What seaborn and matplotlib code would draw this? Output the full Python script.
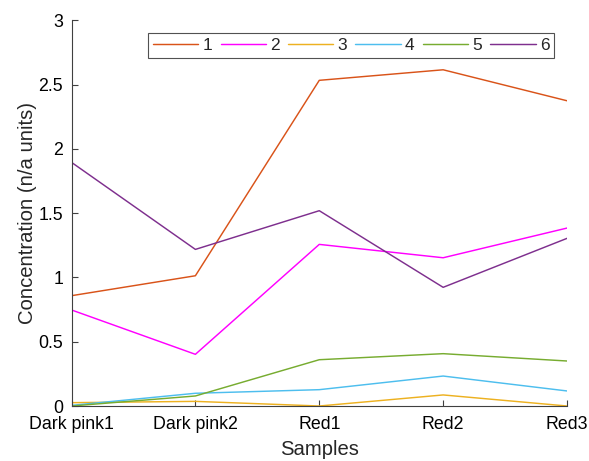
import matplotlib
matplotlib.use("Agg")
import matplotlib.pyplot as plt
import seaborn as sns
import pandas as pd

samples = ["Dark pink1", "Dark pink2", "Red1", "Red2", "Red3"]
s1 = [0.858, 1.013, 2.533, 2.615, 2.374]
s2 = [0.747, 0.402, 1.257, 1.153, 1.384]
s3 = [0.026, 0.036, 0.0, 0.086, 0.0]
s4 = [0.005, 0.099, 0.127, 0.233, 0.117]
s5 = [0.0, 0.078, 0.360, 0.407, 0.350]
s6 = [1.895, 1.218, 1.519, 0.923, 1.304]
series_names = ["1", "2", "3", "4", "5", "6"]
colors = ["#D95319", "#FF00FF", "#EDB120", "#4DBEEE", "#77AC30", "#7E2F8E"]

rows = []
for name, vals in zip(series_names, [s1, s2, s3, s4, s5, s6]):
    for i, v in enumerate(vals):
        rows.append({"x": i, "value": v, "series": name})
df = pd.DataFrame(rows)

sns.set_style("ticks")
plt.rcParams["font.family"] = ["Liberation Sans", "DejaVu Sans"]

fig = plt.figure(figsize=(5.89, 4.61), dpi=100)
ax = fig.add_axes([0.1214, 0.1193, 0.9627 - 0.1214, 0.956 - 0.1193])

sns.lineplot(data=df, x="x", y="value", hue="series", palette=colors,
             linewidth=1.05, ax=ax, legend=True)

ax.set_xlim(0, 4)
ax.set_ylim(0, 3)
ax.set_xticks(range(len(samples)))
ax.set_xticklabels(samples)
ax.set_yticks([0, 0.5, 1, 1.5, 2, 2.5, 3])
ax.set_yticklabels(["0", "0.5", "1", "1.5", "2", "2.5", "3"])
ax.tick_params(direction="in", length=4, width=0.8, colors="#404040",
               labelsize=12.8, labelcolor="black")
ax.tick_params(axis="x", pad=7)
ax.tick_params(axis="y", pad=6)
for side in ["top", "right"]:
    ax.spines[side].set_visible(False)
for side in ["left", "bottom"]:
    ax.spines[side].set_color("#404040")
    ax.spines[side].set_linewidth(0.8)

ax.set_xlabel("Samples", fontsize=14.6, labelpad=5.5)
ax.set_ylabel("Concentration (n/a units)", fontsize=14.6, labelpad=1)

leg = ax.legend(ncol=6, loc="upper right", bbox_to_anchor=(0.9744, 0.968),
                borderaxespad=0, fontsize=12.5, handlelength=2.6,
                columnspacing=0.48, handletextpad=0.25, borderpad=0.28,
                frameon=True, fancybox=False)
leg.get_frame().set_edgecolor("#262626")
leg.get_frame().set_linewidth(0.8)
leg.set_title(None)

fig.savefig("out.png", dpi=100)
